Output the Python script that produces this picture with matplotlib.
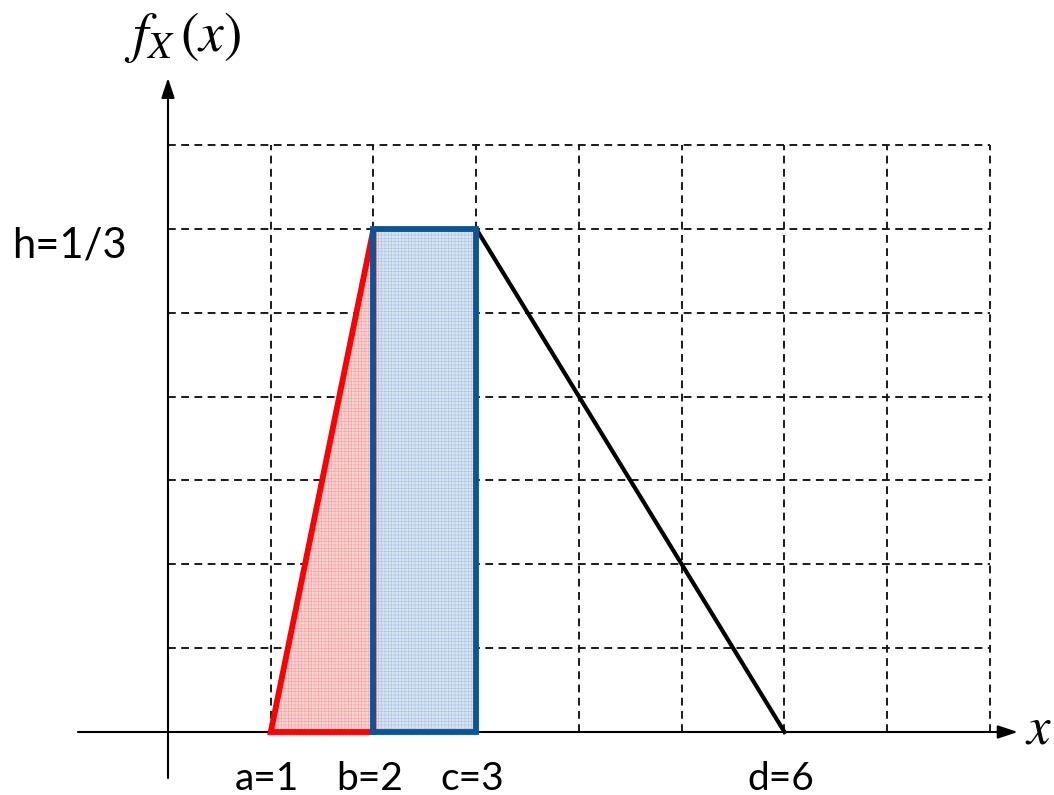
import matplotlib
matplotlib.use("Agg")
import matplotlib.pyplot as plt
from matplotlib.patches import Polygon

# trapezoid-ish pdf: rises a->b, flat b->c, falls c->d
pts = {"a": 1, "b": 2, "c": 3, "d": 6}
h = 1 / 3
pt_labels = ["a=1", "b=2", "c=3", "d=6"]
grid_x = [1, 2, 3, 4, 5, 6, 7, 8]
grid_y = [k / 18 for k in range(1, 8)]

plt.rcParams["hatch.linewidth"] = 0.4
plt.rcParams["mathtext.fontset"] = "stix"

fig = plt.figure(figsize=(10.54, 7.95), dpi=100)
ax = fig.add_axes([0, 0, 1, 1])
ax.set_xlim(-1.635, 8.623)
ax.set_ylim(-0.04174, 0.48496)
ax.axis("off")

dash = (0, (4, 2.8))
for gx in grid_x:
    ax.plot([gx, gx], [0, grid_y[-1]], color="#1a1a1a", lw=1.4, ls=dash, zorder=1)
for gy in grid_y:
    ax.plot([0, grid_x[-1]], [gy, gy], color="#1a1a1a", lw=1.4, ls=dash, zorder=1)

a, b, c, d = pts["a"], pts["b"], pts["c"], pts["d"]

# red triangle region
tri = [(a, 0), (b, h), (b, 0)]
ax.add_patch(Polygon(tri, closed=True, facecolor="#fbd3d3", edgecolor="none", zorder=2))
ax.add_patch(Polygon(tri, closed=True, facecolor="none", edgecolor="#f4a0a0",
                     hatch="+++++", lw=0, zorder=2))
ax.add_patch(Polygon(tri, closed=True, facecolor="none", edgecolor="#ff0000",
                     lw=4.2, joinstyle="miter", zorder=4))

# blue rectangle region
rect = [(b, 0), (b, h), (c, h), (c, 0)]
ax.add_patch(Polygon(rect, closed=True, facecolor="#d6e4f2", edgecolor="none", zorder=2))
ax.add_patch(Polygon(rect, closed=True, facecolor="none", edgecolor="#a9c3de",
                     hatch="+++++", lw=0, zorder=2))
ax.add_patch(Polygon(rect, closed=True, facecolor="none", edgecolor="#0a5596",
                     lw=4.2, joinstyle="miter", zorder=5))

# falling edge
ax.plot([c, d], [h, 0], color="black", lw=3, zorder=4)

# axes with arrows
ax.annotate("", xy=(8.27, 0), xytext=(-0.876, 0),
            arrowprops=dict(arrowstyle="-|>,head_length=1.2,head_width=0.4",
                            color="black", lw=1.5, shrinkA=0, shrinkB=0), zorder=3)
ax.annotate("", xy=(0, 0.4333), xytext=(0, -0.0305),
            arrowprops=dict(arrowstyle="-|>,head_length=1.2,head_width=0.4",
                            color="black", lw=1.5, shrinkA=0, shrinkB=0), zorder=3)

ax.text(8.47, 0.002, r"$x$", fontsize=38, ha="center", va="center")
ax.text(0.14, 0.460, r"$f_X\,(x)$", fontsize=40, ha="center", va="center")
ax.text(-1.52, h - 0.011, "h=1/3", fontsize=30, family="Lato", ha="left", va="center")

for label, px in zip(pt_labels, [a, b, c, d]):
    ax.text(px - 0.04, -0.031, label, fontsize=28, family="Lato", ha="center", va="center")

fig.savefig("out.png", dpi=100)
